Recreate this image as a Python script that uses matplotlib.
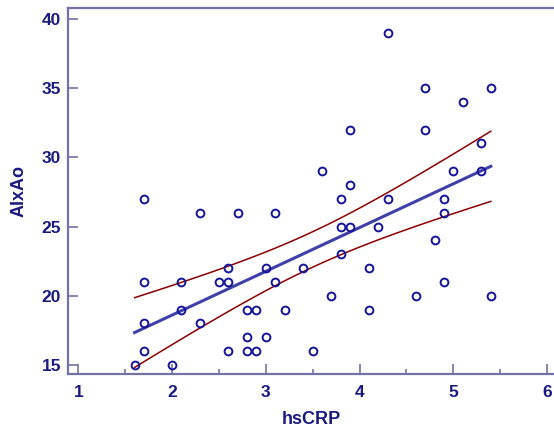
import numpy as np
import matplotlib.pyplot as plt
from matplotlib.ticker import MultipleLocator

# hsCRP vs AIxAo
hscrp = [1.6, 1.7, 1.7, 1.7, 1.7, 2.0, 2.1, 2.1, 2.3, 2.3, 2.5, 2.6, 2.6, 2.6,
         2.7, 2.8, 2.8, 2.8, 2.9, 2.9, 3.0, 3.0, 3.1, 3.1, 3.2, 3.4, 3.5, 3.6,
         3.7, 3.8, 3.8, 3.8, 3.9, 3.9, 3.9, 4.1, 4.1, 4.2, 4.3, 4.3, 4.6, 4.7,
         4.7, 4.8, 4.9, 4.9, 4.9, 5.0, 5.1, 5.3, 5.3, 5.4, 5.4]
aixao = [15, 27, 21, 18, 16, 15, 21, 19, 26, 18, 21, 22, 21, 16,
         26, 19, 17, 16, 19, 16, 22, 17, 26, 21, 19, 22, 16, 29,
         20, 27, 25, 23, 32, 28, 25, 22, 19, 25, 39, 27, 20, 35,
         32, 24, 27, 26, 21, 29, 34, 31, 29, 35, 20]

navy = '#1a1a80'
axcol = '#7272a6'

x = np.array(hscrp)
y = np.array(aixao)
n = len(x)
b, a = np.polyfit(x, y, 1)
xs = np.linspace(x.min(), x.max(), 60)
fit = a + b * xs
resid = y - (a + b * x)
s = np.sqrt(np.sum(resid ** 2) / (n - 2))
t = 2.008  # t(0.975, n-2)
se = s * np.sqrt(1 / n + (xs - x.mean()) ** 2 / np.sum((x - x.mean()) ** 2))

plt.rcParams['font.family'] = ['Liberation Sans', 'DejaVu Sans']
fig = plt.figure(figsize=(5.54, 4.32), dpi=100)
ax = fig.add_axes([68 / 554, 1 - 374 / 432, 1 - 68 / 554, (374 - 8) / 432])

ax.plot(x, y, 'o', mfc='none', mec='#15159a', ms=5.6, mew=1.4, zorder=3)
ax.plot(xs, fit, color='#4040aa', lw=2.2)
ax.plot(xs, fit + t * se, color='#8b0000', lw=1.1)
ax.plot(xs, fit - t * se, color='#8b0000', lw=1.1)

ax.set_xlim(0.89, 6.074)
ax.set_ylim(14.35, 40.78)
ax.xaxis.set_major_locator(MultipleLocator(1))
ax.xaxis.set_minor_locator(MultipleLocator(0.5))
ax.yaxis.set_major_locator(MultipleLocator(5))

for side in ['left', 'bottom', 'top']:
    ax.spines[side].set_color(axcol)
    ax.spines[side].set_linewidth(1.6)
ax.spines['right'].set_visible(False)

ax.tick_params(which='major', direction='in', length=7.2, width=1.2,
               color=axcol, labelcolor=navy, labelsize=12.5, pad=5)
ax.tick_params(axis='x', which='major', pad=8)
ax.tick_params(which='minor', direction='in', length=3.6, width=1.2, color=axcol)
for lab in ax.get_xticklabels() + ax.get_yticklabels():
    lab.set_fontweight('bold')

ax.set_xlabel('hsCRP', fontsize=13, fontweight='bold', color=navy, labelpad=8)
ax.set_ylabel('AIxAo', fontsize=13, fontweight='bold', color=navy, labelpad=10)

plt.savefig('out.png', dpi=100)
